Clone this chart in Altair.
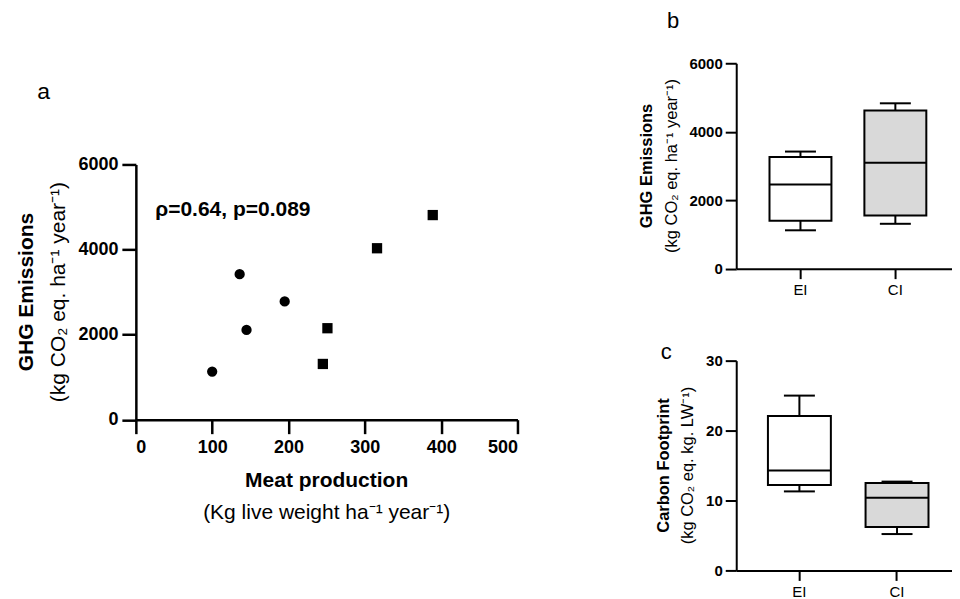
import altair as alt
import pandas as pd

FONT = "Liberation Sans"

# ---------------- Panel a: scatter ----------------
ei_meat = [100, 136, 145, 195]
ei_ghg = [1130, 3420, 2110, 2780]
ci_meat = [245, 251, 316, 389]
ci_ghg = [1310, 2150, 4030, 4810]
x_ticks_a = [0, 100, 200, 300, 400, 500]
y_ticks_a = [0, 2000, 4000, 6000]

# ---------------- Panels b, c: box summaries ----------------
groups = ["EI", "CI"]
group_fill = ["white", "#d9d9d9"]

ghg_low = [1120, 1310]
ghg_q1 = [1400, 1555]
ghg_med = [2460, 3090]
ghg_q3 = [3260, 4620]
ghg_high = [3420, 4830]
y_ticks_b = [0, 2000, 4000, 6000]

cf_low = [11.3, 5.2]
cf_q1 = [12.2, 6.2]
cf_med = [14.3, 10.4]
cf_q3 = [22.1, 12.5]
cf_high = [25.0, 12.7]
y_ticks_c = [0, 10, 20, 30]


def txt(s, x, y, size, weight="normal", angle=0, align="center"):
    return alt.Chart(pd.DataFrame({"t": [s]})).mark_text(
        font=FONT, fontSize=size, fontWeight=weight, angle=angle,
        align=align, baseline="middle", color="black"
    ).encode(text="t:N", x=alt.value(x), y=alt.value(y))


# ---- panel a ----
W_A, H_A = 382, 255.5
scatter_df = pd.DataFrame({
    "meat": ei_meat + ci_meat,
    "ghg": ei_ghg + ci_ghg,
    "system": ["EI"] * len(ei_meat) + ["CI"] * len(ci_meat),
})
pts = alt.Chart(scatter_df).mark_point(
    filled=True, opacity=1, color="black", size=106, strokeWidth=0
).encode(
    x=alt.X("meat:Q", scale=alt.Scale(domain=[0, 500], nice=False),
            axis=alt.Axis(values=x_ticks_a, title=None, format="d",
                          labelFontSize=18, labelFontWeight="bold",
                          tickSize=14, labelPadding=5,
                          domainWidth=2.5, tickWidth=2.5)),
    y=alt.Y("ghg:Q", scale=alt.Scale(domain=[0, 6000], nice=False),
            axis=alt.Axis(values=y_ticks_a, title=None, format="d",
                          labelFontSize=18, labelFontWeight="bold",
                          tickSize=14, labelPadding=4,
                          domainWidth=2.5, tickWidth=2.5)),
    shape=alt.Shape("system:N", scale=alt.Scale(domain=groups, range=["circle", "square"]),
                    legend=None),
)
panel_a = alt.layer(
    pts,
    txt("ρ=0.64, p=0.089", 19.4, 46, 21, "bold", align="left"),
    txt("Meat production", W_A / 2, 317, 21, "bold"),
    txt("(Kg live weight ha⁻¹ year⁻¹)", W_A / 2, 349, 21),
    txt("GHG Emissions", -109, H_A / 2, 21, "bold", angle=270),
    txt("(kg CO₂ eq. ha⁻¹ year⁻¹)", -77.4, H_A / 2, 21, angle=270),
).properties(width=W_A, height=H_A)

spacer_a = txt("a", -92.3, 29, 23).properties(width=W_A, height=70)
left = alt.vconcat(spacer_a, panel_a, spacing=31.3, bounds="flush")


def box_panel(low, q1, med, q3, high, ydom, yticks, W, H, po, align,
              t1, t2, tx1, tx2, tsize1, tsize2, letter, lx, ly, box_w):
    df = pd.DataFrame({"group": groups, "low": low, "q1": q1, "med": med,
                       "q3": q3, "high": high})
    xenc = alt.X("group:N", sort=groups,
                 scale=alt.Scale(type="band", domain=groups, paddingInner=0,
                                 paddingOuter=po, align=align),
                 axis=alt.Axis(title=None, labelAngle=0, labelFontSize=15,
                               labelFontWeight="normal", tickSize=10,
                               labelPadding=4, domainWidth=2, tickWidth=2))
    yenc_axis = alt.Axis(values=yticks, title=None, format="d",
                         labelFontSize=15, labelFontWeight="bold",
                         tickSize=11, labelPadding=3,
                         domainWidth=2, tickWidth=2)
    ysc = alt.Scale(domain=ydom, nice=False)
    base = alt.Chart(df)
    box = base.mark_bar(size=box_w, stroke="black", strokeWidth=2).encode(
        x=xenc,
        y=alt.Y("q1:Q", scale=ysc, axis=yenc_axis),
        y2="q3:Q",
        fill=alt.Fill("group:N", scale=alt.Scale(domain=groups, range=group_fill),
                      legend=None),
    )
    wlow = base.mark_rule(strokeWidth=2, color="black").encode(
        x=xenc, y=alt.Y("low:Q", scale=ysc), y2="q1:Q")
    whigh = base.mark_rule(strokeWidth=2, color="black").encode(
        x=xenc, y=alt.Y("q3:Q", scale=ysc), y2="high:Q")
    cap_low = base.mark_tick(size=31, thickness=2, color="black", opacity=1).encode(
        x=xenc, y=alt.Y("low:Q", scale=ysc))
    cap_high = base.mark_tick(size=31, thickness=2, color="black", opacity=1).encode(
        x=xenc, y=alt.Y("high:Q", scale=ysc))
    median = base.mark_tick(size=box_w, thickness=2, color="black", opacity=1).encode(
        x=xenc, y=alt.Y("med:Q", scale=ysc))
    return alt.layer(
        wlow, whigh, box, cap_low, cap_high, median,
        txt(t1, tx1, H / 2, tsize1, "bold", angle=270),
        txt(t2, tx2, H / 2, tsize2, angle=270),
        txt(letter, lx, ly, 22),
    ).properties(width=W, height=H)


panel_b = box_panel(ghg_low, ghg_q1, ghg_med, ghg_q3, ghg_high, [0, 6000], y_ticks_b,
                    216, 205.6, 0.137, 0.646,
                    "GHG Emissions", "(kg CO₂ eq. ha⁻¹ year⁻¹)", -89, -64.3, 16.5, 16.5,
                    "b", -63.3, -42.7, 62)
panel_c = box_panel(cf_low, cf_q1, cf_med, cf_q3, cf_high, [0, 30], y_ticks_c,
                    216, 210, 0.105, 0.70,
                    "Carbon Footprint", "(kg CO₂ eq. kg. LW⁻¹)", -72.3, -48.3, 16.5, 16.5,
                    "c", -70, -8.3, 63)

right = alt.vconcat(panel_b, panel_c, spacing=91.7, bounds="flush")

chart = alt.hconcat(left, right, spacing=119).properties(
    padding={"left": 8, "top": 1, "right": 0, "bottom": 0}
).configure_view(stroke=None).configure_axis(
    domainColor="black", tickColor="black", labelColor="black",
    labelFont=FONT, grid=False
)

chart.save("out.html", embed_options={"renderer": "svg", "actions": False})
